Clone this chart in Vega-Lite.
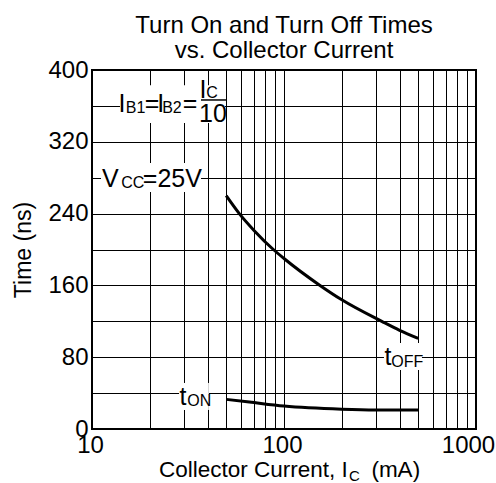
{
  "$schema": "https://vega.github.io/schema/vega-lite/v6.json",
  "width": 384,
  "height": 359,
  "autosize": {"type": "none"},
  "padding": {"left": 92, "top": 70, "right": 20, "bottom": 54},
  "background": "white",
  "config": {
    "font": "Liberation Sans",
    "view": {"stroke": "black", "strokeWidth": 2},
    "axis": {
      "gridColor": "black", "gridOpacity": 1, "gridWidth": 1,
      "domain": false, "ticks": false,
      "labelColor": "black", "labelFontSize": 24, "labelFont": "Liberation Sans",
      "titleColor": "black", "titleFont": "Liberation Sans", "titleFontWeight": "normal"
    }
  },
  "title": {
    "text": ["Turn On and Turn Off Times", "vs. Collector Current"],
    "fontSize": 24, "fontWeight": "normal", "color": "black", "font": "Liberation Sans",
    "anchor": "middle", "offset": -5, "lineHeight": 25
  },
  "datasets": {
    "curves": [
      {"series": "tOFF", "Ic": 50, "t": 260},
      {"series": "tOFF", "Ic": 58.5, "t": 240},
      {"series": "tOFF", "Ic": 70, "t": 221},
      {"series": "tOFF", "Ic": 88, "t": 200},
      {"series": "tOFF", "Ic": 100, "t": 190},
      {"series": "tOFF", "Ic": 154, "t": 160},
      {"series": "tOFF", "Ic": 200, "t": 144},
      {"series": "tOFF", "Ic": 323, "t": 120},
      {"series": "tOFF", "Ic": 400, "t": 110},
      {"series": "tOFF", "Ic": 500, "t": 101},
      {"series": "tON", "Ic": 50, "t": 33},
      {"series": "tON", "Ic": 66, "t": 30},
      {"series": "tON", "Ic": 100, "t": 25.5},
      {"series": "tON", "Ic": 200, "t": 22},
      {"series": "tON", "Ic": 300, "t": 21.2},
      {"series": "tON", "Ic": 500, "t": 21.2}
    ],
    "boxes": [
      {"Ic": 13.99, "Ic2": 49.3, "t": 383, "t2": 341},
      {"Ic": 11.14, "Ic2": 36.97, "t": 296.4, "t2": 264},
      {"Ic": 28.4, "Ic2": 40.6, "t": 51.3, "t2": 21.2},
      {"Ic": 331.7, "Ic2": 523, "t": 95.8, "t2": 65.7}
    ],
    "bars": [
      {"Ic": 36.96, "Ic2": 50.5, "t": 366.6}
    ],
    "mainText": [
      {"Ic": 13.76, "t": 353, "txt": "I"},
      {"Ic": 18.84, "t": 353, "txt": "="},
      {"Ic": 21.9, "t": 353, "txt": "I"},
      {"Ic": 29.71, "t": 353, "txt": "="},
      {"Ic": 36.35, "t": 369, "txt": "I"},
      {"Ic": 36.09, "t": 342, "txt": "10"},
      {"Ic": 11.27, "t": 269.6, "txt": "V"},
      {"Ic": 18.39, "t": 269.6, "txt": "=25V"},
      {"Ic": 28.59, "t": 26.7, "txt": "t"},
      {"Ic": 334.2, "t": 71.3, "txt": "t"}
    ],
    "subText": [
      {"Ic": 15.0, "t": 352, "txt": "B1"},
      {"Ic": 23.2, "t": 352, "txt": "B2"},
      {"Ic": 39.34, "t": 369, "txt": "C"},
      {"Ic": 14.19, "t": 268.5, "txt": "CC"},
      {"Ic": 31.32, "t": 25.6, "txt": "ON"},
      {"Ic": 361.7, "t": 69.1, "txt": "OFF"}
    ],
    "xTitleMain": [
      {"Ic": 22.33, "t": -53.1, "txt": "Collector Current, I"},
      {"Ic": 285.2, "t": -53.1, "txt": "(mA)"}
    ],
    "xTitleSub": [
      {"Ic": 218, "t": -58, "txt": "C"}
    ]
  },
  "encoding": {
    "x": {
      "field": "Ic", "type": "quantitative",
      "scale": {"type": "log", "domain": [10, 1000], "nice": false},
      "axis": {
        "title": null,
        "values": [10, 20, 30, 40, 50, 60, 70, 80, 90, 100, 200, 300, 400, 500, 600, 700, 800, 900, 1000],
        "format": "d",
        "labelExpr": "(datum.value === 10 || datum.value === 100 || datum.value === 1000) ? datum.label : ''",
        "labelFlush": false,
        "labelOverlap": false,
        "labelPadding": 4,
        "labelOffset": {"condition": {"test": "datum.value === 1000", "value": -8}, "value": -2}
      }
    },
    "y": {
      "field": "t", "type": "quantitative",
      "scale": {"domain": [0, 400], "nice": false},
      "axis": {
        "title": "Time (ns)",
        "titleFontSize": 23,
        "titlePadding": 12,
        "values": [0, 40, 80, 120, 160, 200, 240, 280, 320, 360, 400],
        "labelExpr": "datum.value % 80 === 0 ? datum.label : ''",
        "labelPadding": 4,
        "labelOverlap": false
      }
    }
  },
  "layer": [
    {
      "data": {"name": "boxes"},
      "mark": {"type": "rect", "fill": "white", "stroke": null},
      "encoding": {"x2": {"field": "Ic2"}, "y2": {"field": "t2"}}
    },
    {
      "data": {"name": "curves"},
      "mark": {"type": "line", "color": "black", "strokeWidth": 3, "interpolate": "monotone"},
      "encoding": {"detail": {"field": "series"}}
    },
    {
      "data": {"name": "bars"},
      "mark": {"type": "rule", "color": "black", "strokeWidth": 1.5},
      "encoding": {"x2": {"field": "Ic2"}}
    },
    {
      "data": {"name": "mainText"},
      "mark": {"type": "text", "align": "left", "baseline": "alphabetic", "fontSize": 25, "color": "black"},
      "encoding": {"text": {"field": "txt"}}
    },
    {
      "data": {"name": "subText"},
      "mark": {"type": "text", "align": "left", "baseline": "alphabetic", "fontSize": 16, "color": "black"},
      "encoding": {"text": {"field": "txt"}}
    },
    {
      "data": {"name": "xTitleMain"},
      "mark": {"type": "text", "align": "left", "baseline": "alphabetic", "fontSize": 22.5, "color": "black"},
      "encoding": {"text": {"field": "txt"}}
    },
    {
      "data": {"name": "xTitleSub"},
      "mark": {"type": "text", "align": "left", "baseline": "alphabetic", "fontSize": 15, "color": "black"},
      "encoding": {"text": {"field": "txt"}}
    }
  ]
}
